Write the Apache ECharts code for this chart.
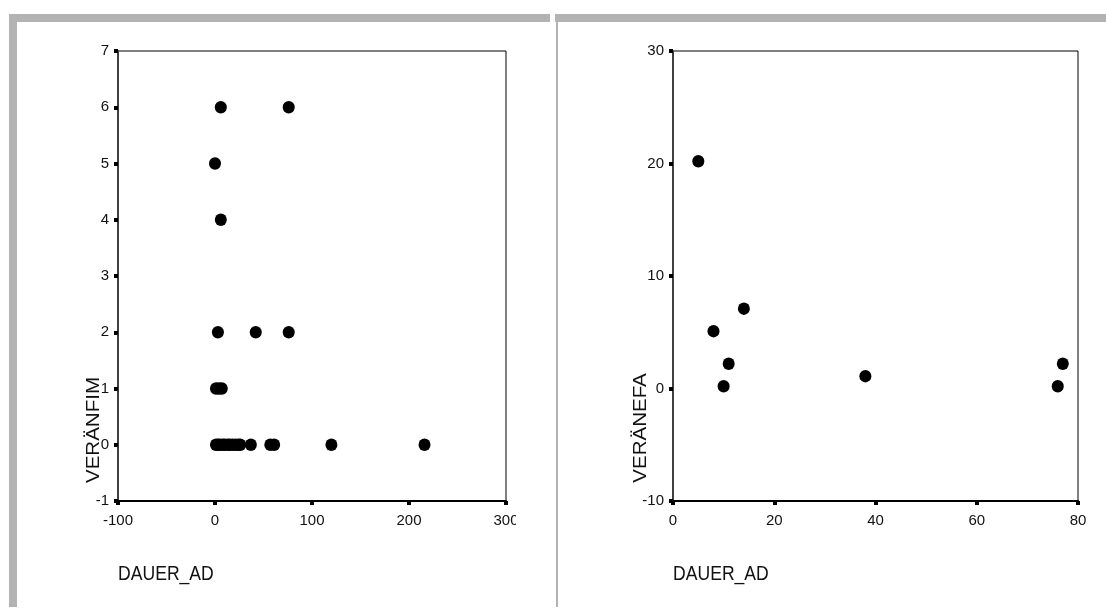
<!DOCTYPE html>
<html>
<head>
<meta charset="utf-8">
<title>DAUER_AD Streudiagramme</title>
<script src="https://cdn.jsdelivr.net/npm/echarts@6/dist/echarts.min.js"></script>
<style>
  html, body { margin: 0; padding: 0; background: #fff; }
  #chart { width: 1106px; height: 616px; }
</style>
</head>
<body>
<div id="chart"></div>
<script>
// --- data: left panel (DAUER_AD vs VERÄNFIM) ---
var fimDauer = [6, 76, 0, 6, 3, 42, 76, 1, 4, 7, 1, 3, 5, 8, 10, 13, 15, 18, 21, 24, 26, 37, 57, 61, 120, 216];
var fimWert  = [6, 6, 5, 4, 2, 2, 2, 1, 1, 1, 0, 0, 0, 0, 0, 0, 0, 0, 0, 0, 0, 0, 0, 0, 0, 0];

// --- data: right panel (DAUER_AD vs VERÄNEFA) ---
var efaDauer = [5, 14, 8, 11, 10, 38, 77, 76];
var efaWert  = [20.2, 7.1, 5.1, 2.2, 0.2, 1.1, 2.2, 0.2];

// axis titles
var xTitle = 'DAUER_AD';
var yTitles = ['VERÄNFIM', 'VERÄNEFA'];

function pairs(xs, ys) {
    return xs.map(function (x, i) { return [x, ys[i]]; });
}

var FONT = 'Arial, "Liberation Sans", sans-serif';
var GRAY = '#b3b3b3';

var chart = echarts.init(document.getElementById('chart'), null, { renderer: 'canvas' });

function xAxis(idx, min, max, step) {
    return {
        type: 'value', gridIndex: idx, min: min, max: max, interval: step,
        splitLine: { show: false },
        axisLine: { show: true, onZero: false, lineStyle: { color: '#000', width: 2 } },
        axisTick: { show: true, length: 4, lineStyle: { color: '#000', width: 4 } },
        axisLabel: { color: '#111', fontSize: 15, fontFamily: FONT, margin: 12 }
    };
}
function yAxis(idx, min, max, step) {
    return {
        type: 'value', gridIndex: idx, min: min, max: max, interval: step,
        splitLine: { show: false },
        axisLine: { show: true, onZero: false, lineStyle: { color: '#404040', width: 2 } },
        axisTick: { show: true, length: 4, lineStyle: { color: '#000', width: 4 } },
        axisLabel: { color: '#111', fontSize: 15, fontFamily: FONT, margin: 9, padding: [6, 0, 0, 0] }
    };
}

var option = {
    animation: false,
    backgroundColor: '#fff',
    grid: [
        { left: 118, top: 51, width: 388, height: 450, show: true, borderColor: '#000', borderWidth: 1, backgroundColor: '#fff' },
        { left: 673, top: 51, width: 405, height: 450, show: true, borderColor: '#000', borderWidth: 1, backgroundColor: '#fff' }
    ],
    xAxis: [xAxis(0, -100, 300, 100), xAxis(1, 0, 80, 20)],
    yAxis: [yAxis(0, -1, 7, 1), yAxis(1, -10, 30, 10)],
    series: [
        {
            type: 'scatter', xAxisIndex: 0, yAxisIndex: 0,
            data: pairs(fimDauer, fimWert),
            symbol: 'circle', symbolSize: [12, 12.5],
            itemStyle: { color: '#000', opacity: 1 }
        },
        {
            type: 'scatter', xAxisIndex: 1, yAxisIndex: 1,
            data: pairs(efaDauer, efaWert),
            symbol: 'circle', symbolSize: [12, 12.5],
            itemStyle: { color: '#000', opacity: 1 }
        }
    ],
    graphic: [
        // grey panel frames
        { type: 'rect', shape: { x: 9, y: 14, width: 541, height: 8 }, style: { fill: GRAY }, z: 100 },
        { type: 'rect', shape: { x: 9, y: 14, width: 8, height: 593 }, style: { fill: GRAY }, z: 100 },
        { type: 'rect', shape: { x: 555, y: 14, width: 551, height: 8 }, style: { fill: GRAY }, z: 100 },
        { type: 'rect', shape: { x: 556, y: 14, width: 2, height: 593 }, style: { fill: GRAY }, z: 100 },
        // panel edge cuts the last tick label
        { type: 'rect', shape: { x: 516, y: 508, width: 34, height: 28 }, style: { fill: '#fff' }, z: 100 },
        // axis titles
        { type: 'text', x: 94.5, y: 430, rotation: Math.PI / 2, scaleX: 1.14, z: 100,
          style: { text: yTitles[0], fill: '#111', fontSize: 18, fontFamily: FONT, align: 'center', verticalAlign: 'middle' } },
        { type: 'text', x: 641, y: 428, rotation: Math.PI / 2, scaleX: 1.14, z: 100,
          style: { text: yTitles[1], fill: '#111', fontSize: 18, fontFamily: FONT, align: 'center', verticalAlign: 'middle' } },
        { type: 'text', x: 118, y: 574, scaleY: 1.2, z: 100,
          style: { text: xTitle, fill: '#111', fontSize: 17.6, fontFamily: FONT, align: 'left', verticalAlign: 'middle' } },
        { type: 'text', x: 673, y: 574, scaleY: 1.2, z: 100,
          style: { text: xTitle, fill: '#111', fontSize: 17.6, fontFamily: FONT, align: 'left', verticalAlign: 'middle' } }
    ]
};

chart.setOption(option);
</script>
</body>
</html>
